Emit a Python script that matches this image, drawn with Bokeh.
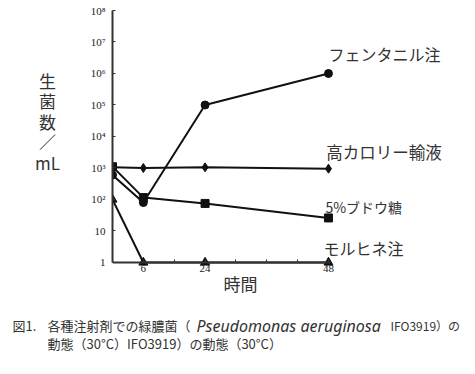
from bokeh.plotting import figure
from bokeh.models import Range1d, FixedTicker, Label
from bokeh.layouts import column, row
from bokeh.embed import file_html
from bokeh.resources import INLINE

# ---- data ----
time_labels = ["0", "6", "24", "48"]
time_slots = [0, 1, 3, 7]          # irregular spacing of the original x axis
fentanyl = [600, 80, 1e5, 1e6]      # フェンタニル注
tpn = [1050, 1000, 1050, 950]       # 高カロリー輸液
glucose = [1100, 115, 75, 26]       # 5%ブドウ糖
morphine = [100, 1, 1, 1]           # モルヒネ注
series_names = ["フェンタニル注", "高カロリー輸液", "5%ブドウ糖", "モルヒネ注"]
y_ticks = [1, 10, 100, 1e3, 1e4, 1e5, 1e6, 1e7, 1e8]
y_tick_labels = ["1", "10", "10²", "10³", "10⁴", "10⁵", "10⁶", "10⁷", "10⁸"]

JP = "Noto Sans CJK JP"
TXT = "#333333"
LINE = "#111111"


def text_fig(w, h):
    f = figure(width=w, height=h, output_backend="svg", toolbar_location=None,
               x_range=Range1d(0, w), y_range=Range1d(0, h),
               x_axis_location=None, y_axis_location=None,
               min_border_left=0, min_border_right=0, min_border_top=0,
               min_border_bottom=0)
    f.outline_line_color = None
    f.xgrid.visible = False
    f.ygrid.visible = False
    return f


def lab(f, x, y, t, size, font=JP, style="normal", align="left", **kw):
    f.add_layout(Label(x=x, y=y, text=t, text_font=font, text_font_size=size,
                       text_font_style=style, text_color=TXT,
                       text_baseline="middle", text_align=align, **kw))


# ---- main chart ----
LW_ = 82
MW, MH = 475 - LW_, 314
# frame runs below y=1 so that the x-axis title fits inside it;
# the x axis itself is pinned at y=1
p = figure(width=MW, height=MH, output_backend="svg", toolbar_location=None,
           y_axis_type="log", x_range=Range1d(0, 11.70),
           y_range=Range1d(10**-1.1429, 1e8),
           min_border_left=30, min_border_right=2, min_border_top=10,
           min_border_bottom=16)
p.outline_line_color = None
p.xgrid.visible = False
p.ygrid.visible = False

for ax in (p.xaxis[0], p.yaxis[0]):
    ax.axis_line_color = "#333333"
    ax.axis_line_width = 2
    ax.major_tick_in = 3
    ax.major_tick_out = 0
    ax.major_tick_line_color = "#333333"
    ax.minor_tick_line_color = None
    ax.major_label_text_font = "Liberation Serif"
    ax.major_label_text_font_size = "11px"
    ax.major_label_text_color = "#222222"

p.yaxis.ticker = FixedTicker(ticks=y_ticks)
p.yaxis.major_label_overrides = {t: l for t, l in zip(y_ticks, y_tick_labels)}
p.yaxis.major_label_standoff = 7
p.yaxis.bounds = (1, 1e8)

xt = list(range(1, 8))
p.xaxis.ticker = FixedTicker(ticks=xt)
over = {t: "" for t in xt}
for s, l in zip(time_slots, time_labels):
    if s in over:
        over[s] = l
p.xaxis.major_label_overrides = over
p.xaxis.major_label_standoff = 3
p.xaxis.bounds = (0, 7.05)
p.xaxis.fixed_location = 1

lw = 2
p.line(time_slots, tpn, line_color=LINE, line_width=lw)
p.scatter(time_slots, tpn, marker="diamond", size=9, color=LINE)
p.line(time_slots, glucose, line_color=LINE, line_width=lw)
p.scatter(time_slots, glucose, marker="square", size=8, color=LINE)
p.line(time_slots, fentanyl, line_color=LINE, line_width=lw)
p.scatter(time_slots, fentanyl, marker="circle", size=8, color=LINE)
p.line(time_slots, morphine, line_color=LINE, line_width=lw)
p.scatter(time_slots, morphine, marker="triangle", size=9, color=LINE)

lab(p, 7.0, 10**6.61, series_names[0], "16px")
lab(p, 6.93, 10**3.52, series_names[1], "16.5px")
lab(p, 6.9, 10**1.77, series_names[2], "14px")
lab(p, 6.84, 10**0.45, series_names[3], "16px")
lab(p, 4.148, 10**-0.651, "時間", "17px", align="center")

# ---- y axis title (stacked) ----
left = text_fig(LW_, MH)
lab(left, 47, MH - 120.5, "生\n菌\n数\n／\nmL", "17px", align="center",
    text_line_height=0.82)

# ---- caption ----
BH = 374 - MH
bottom = text_fig(475, BH)
lab(bottom, 12, 49, "図1.", "13px")
lab(bottom, 47, 49, "各種注射剤での緑膿菌（", "13px")
lab(bottom, 196, 49, "Pseudomonas aeruginosa", "16px", font="Noto Sans",
    style="italic")
lab(bottom, 390, 49, "IFO3919）の", "12px")
lab(bottom, 47, 31, "動態（30°C）IFO3919）の動態（30°C）", "13px")

layout = column(row(left, p), bottom)
open("out.html", "w").write(file_html(layout, INLINE))
